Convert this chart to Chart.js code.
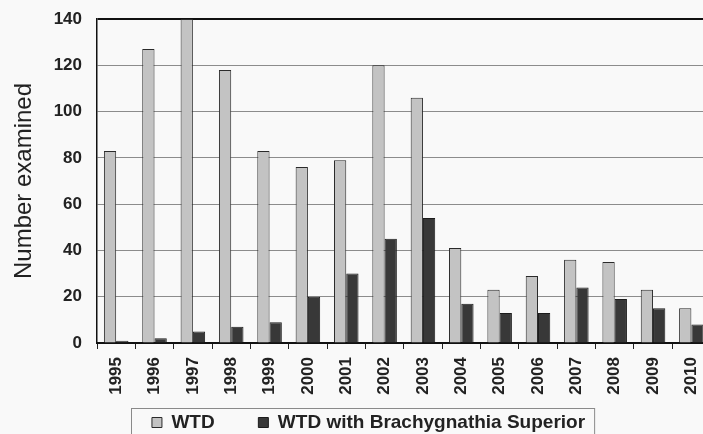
<!DOCTYPE html>
<html>
<head>
<meta charset="utf-8">
<script src="https://cdn.jsdelivr.net/npm/chart.js@4.4.0/dist/chart.umd.min.js"></script>
<style>
  html, body { margin: 0; padding: 0; background: #f9f9f9; overflow: hidden; }
  #wrap { width: 703px; height: 434px; overflow: hidden; }
</style>
</head>
<body>
<div id="wrap"><canvas id="chart" width="720" height="442"></canvas></div>
<script>
// values
const years = ["1995", "1996", "1997", "1998", "1999", "2000", "2001", "2002",
  "2003", "2004", "2005", "2006", "2007", "2008", "2009", "2010"];
const wtd = [83, 127, 140, 118, 83, 76, 79, 120, 106, 41, 23, 29, 36, 35, 23, 15];
const wtdBrachy = [1, 2, 5, 7, 9, 20, 30, 45, 54, 17, 13, 13, 24, 19, 15, 8];
const yTicks = [0, 20, 40, 60, 80, 100, 120, 140];

Chart.defaults.font.family = "'Liberation Sans', Arial, sans-serif";
Chart.defaults.color = "#222";

// frame round the legend, like the original
const legendFrame = {
  id: "legendFrame",
  afterDraw(chart) {
    const boxes = chart.legend.legendHitBoxes;
    if (!boxes || !boxes.length) return;
    const first = boxes[0];
    const last = boxes[boxes.length - 1];
    const ctx = chart.ctx;
    ctx.save();
    ctx.strokeStyle = "#8a8a8a";
    ctx.lineWidth = 1;
    ctx.strokeRect(Math.round(first.left - 21) + 0.5, Math.round(first.top - 5) + 0.5,
      last.left + last.width - first.left + 30, 60);
    ctx.restore();
  }
};

const ctx = document.getElementById("chart").getContext("2d");
new Chart(ctx, {
  type: "bar",
  data: {
    labels: years,
    datasets: [
      {
        label: "WTD",
        data: wtd,
        backgroundColor: "#c3c3c3",
        borderColor: "#2a2a2a",
        borderWidth: 1,
      },
      {
        label: "WTD with Brachygnathia Superior",
        data: wtdBrachy,
        backgroundColor: "#383838",
        borderColor: "#1c1c1c",
        borderWidth: 1,
      },
    ],
  },
  options: {
    responsive: false,
    animation: false,
    devicePixelRatio: 1,
    categoryPercentage: 0.64,
    barPercentage: 1,
    layout: { padding: { top: 19, left: 24, right: 7, bottom: 0 } },
    plugins: {
      tooltip: { enabled: false },
      legend: {
        position: "bottom",
        labels: {
          boxWidth: 10,
          boxHeight: 10,
          padding: 12,
          color: "#222",
          font: { size: 19, weight: "bold" },
          // wider gap after the first entry, as in the original
          generateLabels: (chart) =>
            Chart.defaults.plugins.legend.labels.generateLabels(chart).map((item, i) =>
              i === 0 ? { ...item, text: item.text + "      " } : item),
        },
      },
    },
    scales: {
      x: {
        afterFit: (scale) => { scale.height = 58; },
        grid: {
          offset: true,
          drawOnChartArea: false,
          drawTicks: true,
          tickLength: 6,
          color: "#222",
          lineWidth: 1,
        },
        border: { color: "#111", width: 2 },
        ticks: {
          autoSkip: false,
          minRotation: 90,
          maxRotation: 90,
          padding: 8,
          font: { size: 17, weight: "bold" },
        },
      },
      y: {
        min: 0,
        max: 140,
        afterFit: (scale) => { scale.width = 73; },
        afterBuildTicks: (scale) => {
          scale.ticks = yTicks.map((v) => ({ value: v }));
        },
        grid: {
          drawTicks: true,
          tickLength: 13,
          tickColor: "rgba(0,0,0,0)",
          color: (c) => (c.tick && (c.tick.value === 140 || c.tick.value === 0) ? "#111" : "#8c8c8c"),
          lineWidth: (c) => (c.tick && c.tick.value === 140 ? 2 : 1),
        },
        border: { color: "#111", width: 1.5 },
        ticks: {
          padding: 2,
          font: { size: 17, weight: "bold" },
        },
        title: {
          display: true,
          text: "Number examined",
          padding: { top: -14, bottom: 0 },
          color: "#222",
          font: { size: 24, weight: "normal" },
        },
      },
    },
  },
  plugins: [legendFrame],
});
</script>
</body>
</html>
